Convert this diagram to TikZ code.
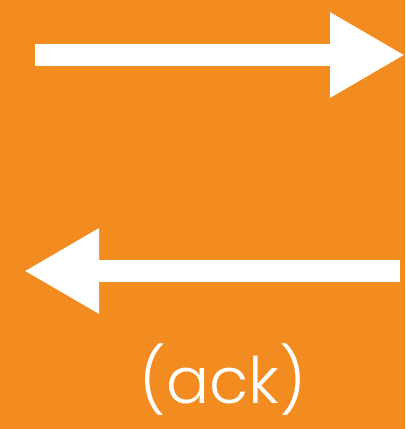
\documentclass[tikz,border=0pt]{standalone}
\usepackage{fontspec}
\newfontfamily\ackfont{Poppins Light}
\usetikzlibrary{arrows.meta}
\definecolor{bgorange}{HTML}{F28B20}
\tikzset{
  bigarrow/.style={white, line width=22pt, -{Triangle[length=75pt 0 0, width=80pt 0 0]}},
  acklabel/.style={white, font=\ackfont\fontsize{64}{64}\selectfont, inner sep=0pt}
}
\begin{document}
\begin{tikzpicture}[x=1pt, y=-1pt]
    % Background
    \fill[bgorange] (0, 0) rectangle (405, 429);
    \useasboundingbox (0, 0) rectangle (405, 429);

    % Arrow ends
    \coordinate (sendL) at (35, 55);
    \coordinate (sendR) at (405, 55);
    \coordinate (ackR) at (400, 271);
    \coordinate (ackL) at (24, 271);

    % Arrows
    \draw[bigarrow] (sendL) -- (sendR);
    \draw[bigarrow] (ackR) -- (ackL);

    % Label
    \node[acklabel] (ack) at (223, 380) {(ack)};
\end{tikzpicture}
\end{document}
